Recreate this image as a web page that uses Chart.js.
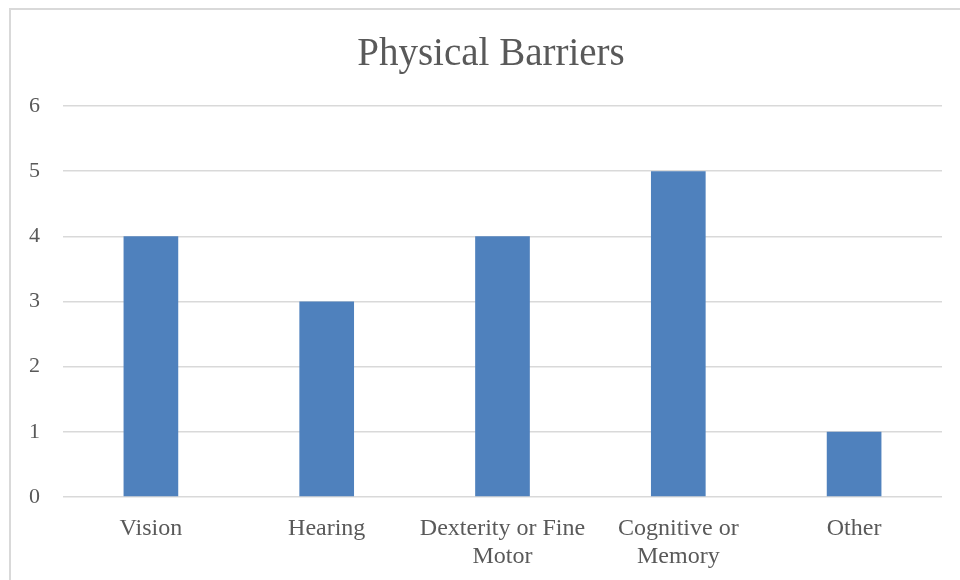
<!DOCTYPE html>
<html>
<head>
<meta charset="utf-8">
<script src="https://cdn.jsdelivr.net/npm/chart.js@4/dist/chart.umd.min.js"></script>
<style>
  html, body { margin: 0; padding: 0; background: #ffffff; }
  #wrap { width: 960px; height: 580px; position: relative; }
</style>
</head>
<body>
<div id="wrap"><canvas id="c" width="960" height="580"></canvas></div>
<script>
// Categories and counts for the chart
const categories = ["Vision", "Hearing", ["Dexterity or Fine", "Motor"], ["Cognitive or", "Memory"], "Other"];
const counts = [4, 3, 4, 5, 1];
const yTicks = [0, 1, 2, 3, 4, 5, 6];
const titleText = "Physical Barriers";

const TEXT = "#595959";
const GRID = "#D9D9D9";
const FONT = "'Liberation Serif', 'DejaVu Serif', serif";

// Light frame around the chart box (box runs past the right and bottom edges)
const FRAME = { left: 10, top: 9, width: 962, height: 600 };

const framePlugin = {
  id: "frame",
  beforeDraw(chart) {
    const ctx = chart.ctx;
    ctx.save();
    ctx.fillStyle = "#ffffff";
    ctx.fillRect(0, 0, chart.width, chart.height);
    ctx.strokeStyle = GRID;
    ctx.lineWidth = 2;
    ctx.strokeRect(FRAME.left, FRAME.top, FRAME.width, FRAME.height);
    ctx.restore();
  },
  // Title centred on the whole chart box
  afterDraw(chart) {
    const ctx = chart.ctx;
    ctx.save();
    ctx.fillStyle = TEXT;
    ctx.font = "39px " + FONT;
    ctx.textAlign = "center";
    ctx.textBaseline = "alphabetic";
    ctx.fillText(titleText, FRAME.left + FRAME.width / 2, 65);
    ctx.restore();
  }
};

new Chart(document.getElementById("c"), {
  type: "bar",
  data: {
    labels: categories,
    datasets: [{
      data: counts,
      backgroundColor: "#4F81BD",
      borderWidth: 0,
      barPercentage: 0.311,
      categoryPercentage: 1.0
    }]
  },
  options: {
    responsive: false,
    animation: false,
    devicePixelRatio: 1,
    layout: { padding: { left: 0, right: 18, top: 106, bottom: 0 } },
    plugins: {
      legend: { display: false },
      tooltip: { enabled: false },
      title: { display: false }
    },
    scales: {
      x: {
        grid: { display: false, drawTicks: false },
        border: { display: false },
        ticks: {
          color: TEXT,
          font: { family: FONT, size: 24, lineHeight: 1.17 },
          padding: 18,
          maxRotation: 0,
          autoSkip: false
        },
        afterFit(scale) { scale.height = 83; }
      },
      y: {
        min: 0,
        max: 6,
        afterBuildTicks(scale) { scale.ticks = yTicks.map(v => ({ value: v })); },
        grid: { color: GRID, lineWidth: 1.5, drawTicks: false },
        border: { display: false },
        ticks: {
          color: TEXT,
          font: { family: FONT, size: 22 },
          padding: 23
        },
        afterFit(scale) { scale.width = 63; }
      }
    }
  },
  plugins: [framePlugin]
});
</script>
</body>
</html>
